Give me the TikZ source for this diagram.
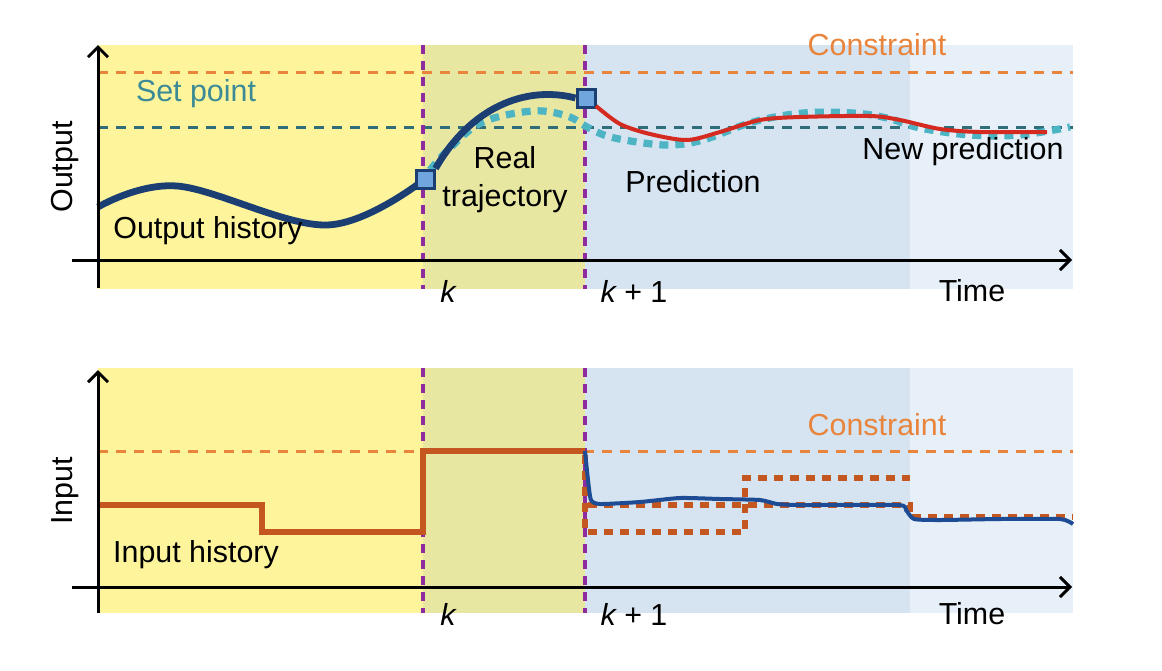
\documentclass[tikz,border=0pt]{standalone}
\usepackage{fontspec}
\setmainfont{Liberation Sans}
\usetikzlibrary{arrows.meta}
\definecolor{yel}{HTML}{FDF49C}
\definecolor{oli}{HTML}{E7E7A2}
\definecolor{blu}{HTML}{D6E4F2}
\definecolor{lblu}{HTML}{E7EFF8}
\definecolor{navy}{HTML}{1B3F73}
\definecolor{sqfill}{HTML}{6FA6DD}
\definecolor{teal}{HTML}{2F6E78}
\definecolor{tealtxt}{HTML}{3C8A96}
\definecolor{orng}{HTML}{E8843C}
\definecolor{brown}{HTML}{C4571F}
\definecolor{cyn}{HTML}{4DB4C4}
\definecolor{redc}{HTML}{D42A20}
\definecolor{purp}{HTML}{8E2B9E}
\definecolor{inblue}{HTML}{1E4C94}
\tikzset{
  lbl/.style={font=\fontsize{15.2}{19}\selectfont, text=black, inner sep=0pt, align=center},
  axisline/.style={line width=1.5pt, draw=black},
  conline/.style={draw=orng, line width=1.5pt, dash pattern=on 5pt off 4pt},
  spline/.style={draw=teal, line width=1.5pt, dash pattern=on 5pt off 4pt},
  kline/.style={draw=purp, line width=1.9pt, dash pattern=on 4.5pt off 3.5pt},
  sq/.style={draw=navy, fill=sqfill, line width=1.5pt, minimum size=9pt, inner sep=0pt},
  bounds/.style={draw=brown, line width=3.4pt, dash pattern=on 4.5pt off 3.5pt},
}
\begin{document}
\begin{tikzpicture}[x=0.5pt,y=-0.5pt]
\useasboundingbox (0,0) rectangle (1162,670);
% ---------- top panel backgrounds
\fill[yel] (98,45) rectangle (423,289);
\fill[oli] (423,45) rectangle (585,289);
\fill[blu] (585,45) rectangle (910,289);
\fill[lblu] (910,45) rectangle (1073,289);
% ---------- bottom panel backgrounds
\fill[yel] (98,368) rectangle (423,613);
\fill[oli] (423,368) rectangle (585,613);
\fill[blu] (585,368) rectangle (910,613);
\fill[lblu] (910,368) rectangle (1073,613);

% ---------- top panel lines
\draw[conline] (98,72) -- (1073,72);
\draw[spline] (98,127) -- (1073,127);
\draw[kline] (423,45) -- (423,289);
\draw[kline] (585,45) -- (585,289);

% old prediction (cyan dashed)
\draw[cyn, line width=3.6pt, dash pattern=on 4.5pt off 3.5pt] plot[smooth, tension=0.6] coordinates {
 (430,170) (450,148) (483,122) (533,111) (567,116) (587,127) (607,136)
 (637,142) (670,145) (703,140) (753,122) (803,113) (853,113) (887,118)
 (920,128) (970,135) (1020,135) (1070,127)};

% output history / real trajectory
\node[sq] (sk) at (425,179) {};
\node[sq] (sk1) at (586,98) {};
\draw[navy, line width=3.4pt] plot[smooth, tension=0.6] coordinates {
 (98,207) (177,186) (327,225) (425,179)};
\draw[navy, line width=3.4pt] (sk.north east) .. controls (470,108) and (525,85) .. (sk1.west);
\node[sq] at (425,179) {};
\node[sq] at (586,98) {};

% new prediction (red)
\draw[redc, line width=2pt] plot[smooth, tension=0.5] coordinates {
 (596,106) (620,124) (650,134) (687,140) (720,132) (760,120) (800,117)
 (870,116) (900,120) (940,129) (980,132) (1047,132)};

% axes top
\draw[axisline, -{Straight Barb[length=5pt,width=10pt]}] (98,288) -- (98,45);
\draw[axisline, -{Straight Barb[length=5pt,width=10pt]}] (72,260) -- (1072,260);

% labels top
\node[lbl, text=orng] (c1) at (877,45) {Constraint};
\node[lbl, text=tealtxt] (sp) at (196,94) {Set point};
\node[lbl] (rt) at (505,180) {Real\\trajectory};
\node[lbl] (oh) at (208,231) {Output history};
\node[lbl] (pr) at (693,182) {Prediction};
\node[lbl] (np) at (963,152) {New prediction};
\node[lbl] (k1) at (448,291) {\itshape k};
\node[lbl] (k11) at (634,291) {{\itshape k} + 1};
\node[lbl] (t1) at (972,291) {Time};
\node[lbl, rotate=90] (out) at (65,167) {Output};

% ---------- bottom panel lines
\draw[conline] (98,451) -- (1073,451);
\draw[kline] (423,368) -- (423,613);
\draw[kline] (585,368) -- (585,613);

% bounds (thick dashed)
\draw[bounds] (585,455) -- (585,532) -- (745,532) -- (745,478) -- (910,478);
\draw[bounds] (588,505) -- (910,505) -- (910,517) -- (1073,517);

% input history
\draw[brown, line width=3.2pt, line join=miter] (98,505) -- (262,505) -- (262,532) -- (423,532) -- (423,451) -- (585,451);

% new input (blue)
\draw[inblue, line width=2pt] plot[smooth, tension=0.35] coordinates {
 (585,451) (588,480) (591,500) (600,504) (640,502) (680,498) (720,499)
 (760,500) (777,504) (800,505) (898,505) (906,510) (914,519) (940,520)
 (1000,519) (1060,519) (1073,524)};

% axes bottom
\draw[axisline, -{Straight Barb[length=5pt,width=10pt]}] (98,613) -- (98,370);
\draw[axisline, -{Straight Barb[length=5pt,width=10pt]}] (72,587) -- (1072,587);

% labels bottom
\node[lbl, text=orng] (c2) at (877,425) {Constraint};
\node[lbl] (ih) at (196,555) {Input history};
\node[lbl] (k2) at (448,614) {\itshape k};
\node[lbl] (k21) at (634,614) {{\itshape k} + 1};
\node[lbl] (t2) at (972,614) {Time};
\node[lbl, rotate=90] (inp) at (65,491) {Input};
\end{tikzpicture}
\end{document}
